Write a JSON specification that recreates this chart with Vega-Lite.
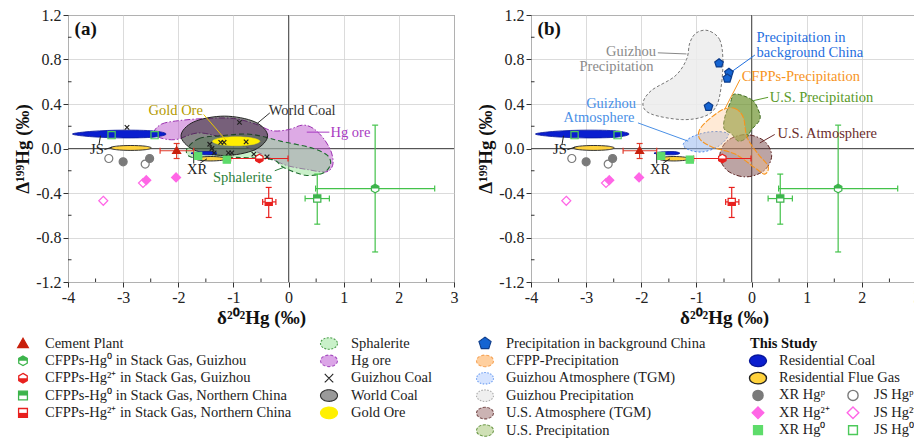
{
"$schema": "https://vega.github.io/schema/vega-lite/v6.json",
"background": "white",
"padding": {"left": 13, "top": 6, "right": 5, "bottom": 5},
"spacing": 6.5,
"resolve": {"scale": {"shape": "independent", "fill": "independent", "stroke": "independent", "strokeDash": "independent", "color": "independent", "x": "independent", "y": "independent"}},
"config": {
  "font": "Liberation Serif",
  "view": {"stroke": null},
  "legend": {"disable": true},
  "axis": {"labelFont": "Liberation Serif", "labelFontSize": 16, "labelColor": "#222", "titleFont": "Liberation Serif", "titleFontSize": 19, "titleFontWeight": "bold", "titleColor": "#111", "domain": false, "tickColor": "#333", "tickWidth": 1, "tickSize": 5, "gridColor": "#d2d2d2", "gridWidth": 0.8}
},
"datasets": {
  "refs": [
    {"x": 0, "y": -1.2, "x2": 0, "y2": 1.2},
    {"x": -4, "y": 0, "x2": 3, "y2": 0}
  ],
  "minor": [
    {"o":"y","x":-4,"y":-1.0},{"o":"y","x":-4,"y":-0.6},{"o":"y","x":-4,"y":-0.2},
    {"o":"y","x":-4,"y":0.2},{"o":"y","x":-4,"y":0.6},{"o":"y","x":-4,"y":1.0},
    {"o":"x","x":-3.5,"y":-1.2},{"o":"x","x":-2.5,"y":-1.2},{"o":"x","x":-1.5,"y":-1.2},
    {"o":"x","x":-0.5,"y":-1.2},{"o":"x","x":0.5,"y":-1.2},{"o":"x","x":1.5,"y":-1.2},{"o":"x","x":2.5,"y":-1.2}
  ],
  "err": [
    {"s":"Cement Plant","x":-2.33,"x2":-1.72,"y":-0.02,"y2":-0.02},
    {"s":"Cement Plant","x":-2.03,"x2":-2.03,"y":-0.09,"y2":0.045},
    {"s":"CFPP Hg0 GZ","x":0.49,"x2":2.65,"y":-0.36,"y2":-0.36},
    {"s":"CFPP Hg0 GZ","x":1.57,"x2":1.57,"y":-0.93,"y2":0.21},
    {"s":"CFPP Hg2 GZ","x":-1.05,"x2":-0.01,"y":-0.09,"y2":-0.09},
    {"s":"CFPP Hg2 GZ","x":-0.53,"x2":-0.53,"y":-0.11,"y2":-0.065},
    {"s":"CFPP Hg0 NC","x":0.3,"x2":0.74,"y":-0.45,"y2":-0.45},
    {"s":"CFPP Hg0 NC","x":0.52,"x2":0.52,"y":-0.68,"y2":-0.23},
    {"s":"CFPP Hg2 NC","x":-0.47,"x2":-0.23,"y":-0.48,"y2":-0.48},
    {"s":"CFPP Hg2 NC","x":-0.36,"x2":-0.36,"y":-0.62,"y2":-0.35}
  ],
  "caps": [
    {"s":"Cement Plant","o":"h","x":-2.33,"y":-0.02},
    {"s":"Cement Plant","o":"h","x":-1.72,"y":-0.02},
    {"s":"Cement Plant","o":"v","x":-2.03,"y":-0.09},
    {"s":"Cement Plant","o":"v","x":-2.03,"y":0.045},
    {"s":"CFPP Hg0 GZ","o":"h","x":0.49,"y":-0.36},
    {"s":"CFPP Hg0 GZ","o":"h","x":2.65,"y":-0.36},
    {"s":"CFPP Hg0 GZ","o":"v","x":1.57,"y":-0.93},
    {"s":"CFPP Hg0 GZ","o":"v","x":1.57,"y":0.21},
    {"s":"CFPP Hg2 GZ","o":"h","x":-1.05,"y":-0.09},
    {"s":"CFPP Hg2 GZ","o":"h","x":-0.01,"y":-0.09},
    {"s":"CFPP Hg2 GZ","o":"v","x":-0.53,"y":-0.11},
    {"s":"CFPP Hg2 GZ","o":"v","x":-0.53,"y":-0.065},
    {"s":"CFPP Hg0 NC","o":"h","x":0.3,"y":-0.45},
    {"s":"CFPP Hg0 NC","o":"h","x":0.74,"y":-0.45},
    {"s":"CFPP Hg0 NC","o":"v","x":0.52,"y":-0.68},
    {"s":"CFPP Hg0 NC","o":"v","x":0.52,"y":-0.23},
    {"s":"CFPP Hg2 NC","o":"h","x":-0.47,"y":-0.48},
    {"s":"CFPP Hg2 NC","o":"h","x":-0.23,"y":-0.48},
    {"s":"CFPP Hg2 NC","o":"v","x":-0.36,"y":-0.62},
    {"s":"CFPP Hg2 NC","o":"v","x":-0.36,"y":-0.35}
  ],
  "pts": [
    {"s":"Cement Plant","x":-2.03,"y":-0.02},
    {"s":"CFPP Hg0 GZ","x":1.57,"y":-0.36},
    {"s":"CFPP Hg2 GZ","x":-0.53,"y":-0.09},
    {"s":"CFPP Hg0 NC","x":0.52,"y":-0.45},
    {"s":"CFPP Hg2 NC","x":-0.36,"y":-0.48},
    {"s":"XR Hgp","x":-3.0,"y":-0.12},
    {"s":"XR Hgp","x":-2.52,"y":-0.09},
    {"s":"JS Hgp","x":-3.26,"y":-0.09},
    {"s":"JS Hgp","x":-2.6,"y":-0.14},
    {"s":"XR Hg2","x":-2.04,"y":-0.26},
    {"s":"XR Hg2","x":-2.58,"y":-0.285},
    {"s":"JS Hg2","x":-3.36,"y":-0.47},
    {"s":"JS Hg2","x":-2.64,"y":-0.31},
    {"s":"XR Hg0","x":-1.64,"y":-0.066},
    {"s":"XR Hg0","x":-1.12,"y":-0.1},
    {"s":"JS Hg0","x":-3.21,"y":0.12},
    {"s":"JS Hg0","x":-2.43,"y":0.12},
    {"s":"Guizhou Coal","x":-2.93,"y":0.19},
    {"s":"Guizhou Coal","x":-0.89,"y":0.235},
    {"s":"Guizhou Coal","x":-1.23,"y":0.055},
    {"s":"Guizhou Coal","x":-1.17,"y":0.055},
    {"s":"Guizhou Coal","x":-0.77,"y":0.06},
    {"s":"Guizhou Coal","x":-1.43,"y":0.038},
    {"s":"Guizhou Coal","x":-1.39,"y":0.0},
    {"s":"Guizhou Coal","x":-1.35,"y":-0.04},
    {"s":"Guizhou Coal","x":-1.09,"y":-0.04},
    {"s":"Guizhou Coal","x":-1.03,"y":-0.04},
    {"s":"Guizhou Coal","x":-0.63,"y":-0.05},
    {"s":"Guizhou Coal","x":-0.39,"y":-0.075},
    {"s":"BG China","x":-0.59,"y":0.766},
    {"s":"BG China","x":-0.41,"y":0.68},
    {"s":"BG China","x":-0.44,"y":0.63},
    {"s":"BG China","x":-0.78,"y":0.376}
  ],
  "blobs": [
    {"b":"hg","g":"hg","i":1,"x":-2.44,"y":0.15},
    {"b":"hg","g":"hg","i":2,"x":-2.3,"y":0.22},
    {"b":"hg","g":"hg","i":3,"x":-2.0,"y":0.25},
    {"b":"hg","g":"hg","i":4,"x":-1.5,"y":0.27},
    {"b":"hg","g":"hg","i":5,"x":-1.0,"y":0.27},
    {"b":"hg","g":"hg","i":6,"x":-0.6,"y":0.22},
    {"b":"hg","g":"hg","i":7,"x":-0.3,"y":0.16},
    {"b":"hg","g":"hg","i":8,"x":0.0,"y":0.17},
    {"b":"hg","g":"hg","i":9,"x":0.25,"y":0.21},
    {"b":"hg","g":"hg","i":10,"x":0.45,"y":0.18},
    {"b":"hg","g":"hg","i":11,"x":0.65,"y":0.08},
    {"b":"hg","g":"hg","i":12,"x":0.78,"y":-0.04},
    {"b":"hg","g":"hg","i":13,"x":0.8,"y":-0.15},
    {"b":"hg","g":"hg","i":14,"x":0.68,"y":-0.21},
    {"b":"hg","g":"hg","i":15,"x":0.35,"y":-0.19},
    {"b":"hg","g":"hg","i":16,"x":-0.05,"y":-0.15},
    {"b":"hg","g":"hg","i":17,"x":-0.4,"y":-0.07},
    {"b":"hg","g":"hg","i":18,"x":-1.0,"y":0.06},
    {"b":"hg","g":"hg","i":19,"x":-1.6,"y":0.14},
    {"b":"hg","g":"hg","i":20,"x":-2.05,"y":0.08},
    {"b":"hg","g":"hg","i":21,"x":-2.35,"y":0.1},
    {"b":"sph","g":"sph","i":1,"x":-1.84,"y":0.0},
    {"b":"sph","g":"sph","i":2,"x":-1.62,"y":0.09},
    {"b":"sph","g":"sph","i":3,"x":-1.24,"y":0.115},
    {"b":"sph","g":"sph","i":4,"x":-0.75,"y":0.13},
    {"b":"sph","g":"sph","i":5,"x":-0.4,"y":0.1},
    {"b":"sph","g":"sph","i":6,"x":-0.15,"y":0.066},
    {"b":"sph","g":"sph","i":7,"x":0.15,"y":0.036},
    {"b":"sph","g":"sph","i":8,"x":0.45,"y":0.0},
    {"b":"sph","g":"sph","i":9,"x":0.7,"y":-0.06},
    {"b":"sph","g":"sph","i":10,"x":0.76,"y":-0.14},
    {"b":"sph","g":"sph","i":11,"x":0.63,"y":-0.22},
    {"b":"sph","g":"sph","i":12,"x":0.3,"y":-0.24},
    {"b":"sph","g":"sph","i":13,"x":-0.09,"y":-0.17},
    {"b":"sph","g":"sph","i":14,"x":-0.3,"y":-0.1},
    {"b":"sph","g":"sph","i":15,"x":-0.93,"y":-0.08},
    {"b":"sph","g":"sph","i":16,"x":-1.54,"y":-0.085},
    {"b":"sph","g":"sph","i":17,"x":-1.8,"y":-0.07},
    {"b":"wc","g":"wc","i":1,"x":-0.38,"y":0.114},
    {"b":"wc","g":"wc","i":2,"x":-0.61,"y":0.239},
    {"b":"wc","g":"wc","i":3,"x":-1.165,"y":0.291},
    {"b":"wc","g":"wc","i":4,"x":-1.72,"y":0.239},
    {"b":"wc","g":"wc","i":5,"x":-1.95,"y":0.114},
    {"b":"wc","g":"wc","i":6,"x":-1.72,"y":-0.011},
    {"b":"wc","g":"wc","i":7,"x":-1.165,"y":-0.063},
    {"b":"wc","g":"wc","i":8,"x":-0.61,"y":-0.011},
    {"b":"gold","g":"gold","i":1,"x":-0.52,"y":0.065},
    {"b":"gold","g":"gold","i":2,"x":-0.646,"y":0.093},
    {"b":"gold","g":"gold","i":3,"x":-0.95,"y":0.105},
    {"b":"gold","g":"gold","i":4,"x":-1.254,"y":0.093},
    {"b":"gold","g":"gold","i":5,"x":-1.38,"y":0.065},
    {"b":"gold","g":"gold","i":6,"x":-1.254,"y":0.037},
    {"b":"gold","g":"gold","i":7,"x":-0.95,"y":0.025},
    {"b":"gold","g":"gold","i":8,"x":-0.646,"y":0.037},
    {"b":"rc","g":"rcjs","i":1,"x":-3.92,"y":0.13},
    {"b":"rc","g":"rcjs","i":2,"x":-3.55,"y":0.155},
    {"b":"rc","g":"rcjs","i":3,"x":-3.0,"y":0.165},
    {"b":"rc","g":"rcjs","i":4,"x":-2.45,"y":0.158},
    {"b":"rc","g":"rcjs","i":5,"x":-2.22,"y":0.13},
    {"b":"rc","g":"rcjs","i":6,"x":-2.45,"y":0.102},
    {"b":"rc","g":"rcjs","i":7,"x":-3.0,"y":0.095},
    {"b":"rc","g":"rcjs","i":8,"x":-3.55,"y":0.105},
    {"b":"rc","g":"rcxr","i":1,"x":-1.77,"y":-0.042},
    {"b":"rc","g":"rcxr","i":2,"x":-1.6,"y":-0.03},
    {"b":"rc","g":"rcxr","i":3,"x":-1.4,"y":-0.028},
    {"b":"rc","g":"rcxr","i":4,"x":-1.3,"y":-0.042},
    {"b":"rc","g":"rcxr","i":5,"x":-1.4,"y":-0.056},
    {"b":"rc","g":"rcxr","i":6,"x":-1.6,"y":-0.054},
    {"b":"fg","g":"fgjs","i":1,"x":-2.49,"y":0.005},
    {"b":"fg","g":"fgjs","i":2,"x":-2.6,"y":0.021},
    {"b":"fg","g":"fgjs","i":3,"x":-2.86,"y":0.027},
    {"b":"fg","g":"fgjs","i":4,"x":-3.12,"y":0.021},
    {"b":"fg","g":"fgjs","i":5,"x":-3.235,"y":0.005},
    {"b":"fg","g":"fgjs","i":6,"x":-3.12,"y":-0.011},
    {"b":"fg","g":"fgjs","i":7,"x":-2.86,"y":-0.017},
    {"b":"fg","g":"fgjs","i":8,"x":-2.6,"y":-0.011},
    {"b":"fg","g":"fgxr","i":1,"x":-1.13,"y":-0.092},
    {"b":"fg","g":"fgxr","i":2,"x":-1.21,"y":-0.078},
    {"b":"fg","g":"fgxr","i":3,"x":-1.41,"y":-0.072},
    {"b":"fg","g":"fgxr","i":4,"x":-1.61,"y":-0.078},
    {"b":"fg","g":"fgxr","i":5,"x":-1.69,"y":-0.092},
    {"b":"fg","g":"fgxr","i":6,"x":-1.61,"y":-0.106},
    {"b":"fg","g":"fgxr","i":7,"x":-1.41,"y":-0.112},
    {"b":"fg","g":"fgxr","i":8,"x":-1.21,"y":-0.106},
    {"b":"gzp","g":"gzp","i":1,"x":-0.79,"y":1.06},
    {"b":"gzp","g":"gzp","i":2,"x":-0.58,"y":0.98},
    {"b":"gzp","g":"gzp","i":3,"x":-0.52,"y":0.8},
    {"b":"gzp","g":"gzp","i":4,"x":-0.55,"y":0.56},
    {"b":"gzp","g":"gzp","i":5,"x":-0.64,"y":0.38},
    {"b":"gzp","g":"gzp","i":6,"x":-0.85,"y":0.29},
    {"b":"gzp","g":"gzp","i":7,"x":-1.27,"y":0.26},
    {"b":"gzp","g":"gzp","i":8,"x":-1.82,"y":0.31},
    {"b":"gzp","g":"gzp","i":9,"x":-1.97,"y":0.4},
    {"b":"gzp","g":"gzp","i":10,"x":-1.82,"y":0.52},
    {"b":"gzp","g":"gzp","i":11,"x":-1.39,"y":0.65},
    {"b":"gzp","g":"gzp","i":12,"x":-1.18,"y":0.8},
    {"b":"gzp","g":"gzp","i":13,"x":-1.12,"y":0.95},
    {"b":"gzp","g":"gzp","i":14,"x":-1.0,"y":1.04},
    {"b":"gza","g":"gza","i":1,"x":-0.42,"y":0.12},
    {"b":"gza","g":"gza","i":2,"x":-0.55,"y":0.15},
    {"b":"gza","g":"gza","i":3,"x":-0.82,"y":0.145},
    {"b":"gza","g":"gza","i":4,"x":-1.1,"y":0.1},
    {"b":"gza","g":"gza","i":5,"x":-1.24,"y":0.035},
    {"b":"gza","g":"gza","i":6,"x":-1.12,"y":-0.015},
    {"b":"gza","g":"gza","i":7,"x":-0.88,"y":-0.03},
    {"b":"gza","g":"gza","i":8,"x":-0.6,"y":0.02},
    {"b":"usa","g":"usa","i":1,"x":0.364,"y":-0.065},
    {"b":"usa","g":"usa","i":2,"x":0.226,"y":0.069},
    {"b":"usa","g":"usa","i":3,"x":-0.106,"y":0.125},
    {"b":"usa","g":"usa","i":4,"x":-0.438,"y":0.069},
    {"b":"usa","g":"usa","i":5,"x":-0.576,"y":-0.065},
    {"b":"usa","g":"usa","i":6,"x":-0.438,"y":-0.199},
    {"b":"usa","g":"usa","i":7,"x":-0.106,"y":-0.255},
    {"b":"usa","g":"usa","i":8,"x":0.226,"y":-0.199},
    {"b":"usp","g":"usp","i":1,"x":-0.3,"y":0.49},
    {"b":"usp","g":"usp","i":2,"x":0.0,"y":0.44},
    {"b":"usp","g":"usp","i":3,"x":0.12,"y":0.35},
    {"b":"usp","g":"usp","i":4,"x":0.15,"y":0.26},
    {"b":"usp","g":"usp","i":5,"x":0.0,"y":0.17},
    {"b":"usp","g":"usp","i":6,"x":-0.09,"y":0.096},
    {"b":"usp","g":"usp","i":7,"x":-0.24,"y":0.066},
    {"b":"usp","g":"usp","i":8,"x":-0.36,"y":0.13},
    {"b":"usp","g":"usp","i":9,"x":-0.5,"y":0.18},
    {"b":"usp","g":"usp","i":10,"x":-0.48,"y":0.29},
    {"b":"usp","g":"usp","i":11,"x":-0.38,"y":0.42},
    {"b":"cfpp","g":"cfpp","i":1,"x":-0.52,"y":0.35},
    {"b":"cfpp","g":"cfpp","i":2,"x":-0.3,"y":0.36},
    {"b":"cfpp","g":"cfpp","i":3,"x":-0.15,"y":0.28},
    {"b":"cfpp","g":"cfpp","i":4,"x":-0.08,"y":0.1},
    {"b":"cfpp","g":"cfpp","i":5,"x":0.12,"y":-0.05},
    {"b":"cfpp","g":"cfpp","i":6,"x":0.3,"y":-0.16},
    {"b":"cfpp","g":"cfpp","i":7,"x":0.24,"y":-0.23},
    {"b":"cfpp","g":"cfpp","i":8,"x":0.05,"y":-0.17},
    {"b":"cfpp","g":"cfpp","i":9,"x":-0.3,"y":-0.05},
    {"b":"cfpp","g":"cfpp","i":10,"x":-0.7,"y":0.01},
    {"b":"cfpp","g":"cfpp","i":11,"x":-0.93,"y":0.08},
    {"b":"cfpp","g":"cfpp","i":12,"x":-0.95,"y":0.16},
    {"b":"cfpp","g":"cfpp","i":13,"x":-0.8,"y":0.25}
  ],
  "ann": [
    {"p":"a","k":"gold","t":"Gold Ore","x":-2.54,"y":0.34},
    {"p":"a","k":"wc","t":"World Coal","x":-0.36,"y":0.34},
    {"p":"a","k":"hg","t":"Hg ore","x":0.76,"y":0.14},
    {"p":"a","k":"sph","t":"Sphalerite","x":-1.37,"y":-0.265},
    {"p":"ab","k":"site","t":"JS","x":-3.6,"y":-0.01},
    {"p":"ab","k":"site","t":"XR","x":-1.84,"y":-0.195},
    {"p":"b","k":"gzp","t":"Guizhou","x":-2.64,"y":0.87},
    {"p":"b","k":"gzp","t":"Precipitation","x":-3.12,"y":0.73},
    {"p":"b","k":"bg","t":"Precipitation in","x":0.09,"y":0.99},
    {"p":"b","k":"bg","t":"background China","x":0.09,"y":0.86},
    {"p":"b","k":"cfpp","t":"CFPPs-Precipitation","x":-0.18,"y":0.64},
    {"p":"b","k":"usp","t":"U.S. Precipitation","x":0.33,"y":0.455},
    {"p":"b","k":"gza","t":"Guizhou","x":-3.0,"y":0.4},
    {"p":"b","k":"gza","t":"Atmosphere","x":-3.41,"y":0.27},
    {"p":"b","k":"usa","t":"U.S. Atmosphere","x":0.47,"y":0.126}
  ],
  "lead": [
    {"p":"a","k":"gold","x":-1.54,"y":0.306,"x2":-1.12,"y2":0.066},
    {"p":"a","k":"wc","x":-0.34,"y":0.32,"x2":-0.57,"y2":0.225},
    {"p":"a","k":"hg","x":0.33,"y":0.147,"x2":0.74,"y2":0.147},
    {"p":"a","k":"sph","x":-0.25,"y":-0.2,"x2":-0.09,"y2":-0.17},
    {"p":"ab","k":"site","x":-3.44,"y":0.03,"x2":-3.41,"y2":0.115},
    {"p":"ab","k":"site","x":-3.34,"y":-0.01,"x2":-3.2,"y2":0.012},
    {"p":"ab","k":"site","x":-1.72,"y":-0.135,"x2":-1.72,"y2":-0.045},
    {"p":"ab","k":"site","x":-1.6,"y":-0.13,"x2":-1.48,"y2":-0.093},
    {"p":"b","k":"gzp","x":-1.7,"y":0.86,"x2":-1.18,"y2":0.85},
    {"p":"b","k":"bg","x":-0.39,"y":0.68,"x2":0.06,"y2":0.84},
    {"p":"b","k":"cfpp","x":-0.21,"y":0.62,"x2":-0.49,"y2":0.35},
    {"p":"b","k":"usp","x":0.03,"y":0.43,"x2":0.3,"y2":0.46},
    {"p":"b","k":"gza","x":-2.06,"y":0.23,"x2":-1.15,"y2":0.066},
    {"p":"b","k":"usa","x":0.15,"y":0.05,"x2":0.42,"y2":0.126}
  ]
},
"vconcat": [
  {"hconcat": [
    {"width": 45, "height": 10, "data": {"values": []}, "mark": "point"},
    {"hconcat": [
      {
        "width": 386, "height": 267,
        "view": {"stroke": "#333", "strokeWidth": 1},
        "encoding": {
          "x": {"field": "x", "type": "quantitative", "scale": {"domain": [-4, 3], "nice": false, "zero": false},
            "axis": {"title": "δ²⁰²Hg (‰)", "grid": true, "values": [-4,-3,-2,-1,0,1,2,3],
              "labelExpr": "datum.value < 0 ? '-' + abs(datum.value) : '' + datum.value",
              "labelOverlap": false, "labelFlush": false, "labelPadding": 2, "titlePadding": 3}},
          "y": {"field": "y", "type": "quantitative", "scale": {"domain": [-1.2, 1.2], "nice": false, "zero": false},
            "axis": {"title": "Δ¹⁹⁹Hg (‰)", "grid": true, "values": [-1.2,-0.8,-0.4,0,0.4,0.8,1.2],
              "labelExpr": "(datum.value < -0.01 ? '-' : '') + format(abs(datum.value), '.1f')",
              "labelOverlap": false, "labelFlush": false, "labelPadding": 2, "titlePadding": 3}}
        },
        "resolve": {"scale": {"shape": "independent", "fill": "independent", "stroke": "independent", "color": "independent"}},
        "layer": [
          {"data": {"name": "refs"}, "mark": {"type": "rule", "color": "#555", "strokeWidth": 1}, "encoding": {"x2": {"field": "x2"}, "y2": {"field": "y2"}}},
          {"data": {"name": "minor"}, "mark": {"type": "point", "size": 49, "filled": false, "opacity": 1, "strokeWidth": 1, "stroke": "#333"}, "encoding": {"shape": {"field": "o", "type": "nominal", "scale": {"domain": ["y", "x"], "range": ["M0,0L1,0", "M0,0L0,-1"]}}}},
          {"data": {"name": "blobs"}, "transform": [{"filter": "datum.b === 'hg'"}], "mark": {"type": "line", "interpolate": "cardinal-closed", "fill": "#bb55cc", "fillOpacity": 0.5, "stroke": "#9b30b0", "strokeWidth": 1, "strokeDash": [6, 2, 1.5, 2]}, "encoding": {"detail": {"field": "g"}, "order": {"field": "i", "type": "quantitative"}}},
          {"data": {"name": "blobs"}, "transform": [{"filter": "datum.b === 'sph'"}], "mark": {"type": "line", "interpolate": "cardinal-closed", "fill": "#88dd88", "fillOpacity": 0.45, "stroke": "#1e6b2e", "strokeWidth": 1.1, "strokeDash": [5, 3]}, "encoding": {"detail": {"field": "g"}, "order": {"field": "i", "type": "quantitative"}}},
          {"data": {"name": "blobs"}, "transform": [{"filter": "datum.b === 'wc'"}], "mark": {"type": "line", "interpolate": "cardinal-closed", "fill": "#222222", "fillOpacity": 0.55, "stroke": "#222", "strokeWidth": 1}, "encoding": {"detail": {"field": "g"}, "order": {"field": "i", "type": "quantitative"}}},
          {"data": {"name": "blobs"}, "transform": [{"filter": "datum.b === 'gold'"}], "mark": {"type": "line", "interpolate": "cardinal-closed", "fill": "#ffee00", "fillOpacity": 1, "stroke": "#ffee00", "strokeWidth": 0.5}, "encoding": {"detail": {"field": "g"}, "order": {"field": "i", "type": "quantitative"}}},
          {"data": {"name": "blobs"}, "transform": [{"filter": "datum.b === 'rc'"}], "mark": {"type": "line", "interpolate": "cardinal-closed", "fill": "#0a1ecf", "fillOpacity": 1, "stroke": "#08179a", "strokeWidth": 0.8}, "encoding": {"detail": {"field": "g"}, "order": {"field": "i", "type": "quantitative"}}},
          {"data": {"name": "blobs"}, "transform": [{"filter": "datum.b === 'fg'"}], "mark": {"type": "line", "interpolate": "cardinal-closed", "fill": "#ffd23c", "fillOpacity": 1, "stroke": "#333", "strokeWidth": 1}, "encoding": {"detail": {"field": "g"}, "order": {"field": "i", "type": "quantitative"}}},
          {"data": {"name": "lead"}, "transform": [{"filter": "datum.p !== 'b'"}], "mark": {"type": "rule", "strokeWidth": 1}, "encoding": {"x2": {"field": "x2"}, "y2": {"field": "y2"}, "color": {"field": "k", "type": "nominal", "scale": {"domain": ["gold","wc","hg","sph","site","gzp","bg","cfpp","usp","gza","usa"], "range": ["#e8c800","#333333","#a93cc2","#2e7f3c","#222222","#888888","#1f6fe0","#f7941d","#5a9a2a","#4a90e6","#6b2d2d"]}}}},
          {"data": {"name": "err"}, "mark": {"type": "rule", "strokeWidth": 1.2}, "encoding": {"x2": {"field": "x2"}, "y2": {"field": "y2"}, "color": {"field": "s", "type": "nominal", "scale": {"domain": ["Cement Plant","CFPP Hg0 GZ","CFPP Hg2 GZ","CFPP Hg0 NC","CFPP Hg2 NC"], "range": ["#e03a2a","#43c24a","#e8201e","#43c24a","#e8201e"]}}}},
          {"data": {"name": "caps"}, "mark": {"type": "point", "size": 100, "filled": false, "opacity": 1, "strokeWidth": 1.2}, "encoding": {"shape": {"field": "o", "type": "nominal", "scale": {"domain": ["h", "v"], "range": ["M0,-0.6L0,0.6", "M-0.6,0L0.6,0"]}}, "color": {"field": "s", "type": "nominal", "scale": {"domain": ["Cement Plant","CFPP Hg0 GZ","CFPP Hg2 GZ","CFPP Hg0 NC","CFPP Hg2 NC"], "range": ["#e03a2a","#43c24a","#e8201e","#43c24a","#e8201e"]}}}},
          {"data": {"name": "pts"}, "transform": [{"filter": "datum.s !== 'BG China'"}], "mark": {"type": "point", "filled": true, "opacity": 1, "size": 100, "strokeWidth": 1.2},
            "encoding": {
              "shape": {"field": "s", "type": "nominal", "scale": {"domain": ["Cement Plant","CFPP Hg0 GZ","CFPP Hg2 GZ","CFPP Hg0 NC","CFPP Hg2 NC","XR Hgp","JS Hgp","XR Hg2","JS Hg2","XR Hg0","JS Hg0","Guizhou Coal","BG China"], "range": ["M0,-0.8L0.8,0.55L-0.8,0.55Z","M0,-0.85L0.74,-0.425L0.74,0.425L0,0.85L-0.74,0.425L-0.74,-0.425Z","M0,-0.85L0.74,-0.425L0.74,0.425L0,0.85L-0.74,0.425L-0.74,-0.425Z","M-0.72,-0.72L0.72,-0.72L0.72,0.72L-0.72,0.72Z","M-0.72,-0.72L0.72,-0.72L0.72,0.72L-0.72,0.72Z","M0.8,0C0.8,0.442,0.442,0.8,0,0.8C-0.442,0.8,-0.8,0.442,-0.8,0C-0.8,-0.442,-0.442,-0.8,0,-0.8C0.442,-0.8,0.8,-0.442,0.8,0Z","M0.8,0C0.8,0.442,0.442,0.8,0,0.8C-0.442,0.8,-0.8,0.442,-0.8,0C-0.8,-0.442,-0.442,-0.8,0,-0.8C0.442,-0.8,0.8,-0.442,0.8,0Z","M0,-0.9L0.9,0L0,0.9L-0.9,0Z","M0,-0.9L0.9,0L0,0.9L-0.9,0Z","M-0.72,-0.72L0.72,-0.72L0.72,0.72L-0.72,0.72Z","M-0.72,-0.72L0.72,-0.72L0.72,0.72L-0.72,0.72Z","M-0.45,-0.45L0.45,0.45M0.45,-0.45L-0.45,0.45","M0,-0.9L0.856,-0.278L0.529,0.728L-0.529,0.728L-0.856,-0.278Z"]}},
              "fill": {"field": "s", "type": "nominal", "scale": {"domain": ["Cement Plant","CFPP Hg0 GZ","CFPP Hg2 GZ","CFPP Hg0 NC","CFPP Hg2 NC","XR Hgp","JS Hgp","XR Hg2","JS Hg2","XR Hg0","JS Hg0","Guizhou Coal","BG China"], "range": ["#c8200c","#ffffff","#ffffff","#ffffff","#ffffff","#7a7a7a","transparent","#ff66e6","transparent","#5edc6b","transparent","transparent","#1464d2"]}},
              "stroke": {"field": "s", "type": "nominal", "scale": {"domain": ["Cement Plant","CFPP Hg0 GZ","CFPP Hg2 GZ","CFPP Hg0 NC","CFPP Hg2 NC","XR Hgp","JS Hgp","XR Hg2","JS Hg2","XR Hg0","JS Hg0","Guizhou Coal","BG China"], "range": ["#c8200c","#3cb44b","#e8201e","#3cb44b","#e8201e","#7a7a7a","#7a7a7a","#ff66e6","#ff66e6","#5edc6b","#4cc95a","#222222","#0d3c8a"]}}
            }},
          {"data": {"name": "pts"}, "transform": [{"filter": "indexof(datum.s, 'CFPP') === 0"}], "mark": {"type": "point", "filled": true, "opacity": 1, "size": 100, "strokeWidth": 0},
            "encoding": {
              "shape": {"field": "s", "type": "nominal", "scale": {"domain": ["CFPP Hg0 GZ","CFPP Hg2 GZ","CFPP Hg0 NC","CFPP Hg2 NC"], "range": ["M-0.74,0L-0.74,-0.425L0,-0.85L0.74,-0.425L0.74,0Z","M-0.74,0L-0.74,0.425L0,0.85L0.74,0.425L0.74,0Z","M-0.72,-0.72L0.72,-0.72L0.72,0L-0.72,0Z","M-0.72,0L0.72,0L0.72,0.72L-0.72,0.72Z"]}},
              "fill": {"field": "s", "type": "nominal", "scale": {"domain": ["CFPP Hg0 GZ","CFPP Hg2 GZ","CFPP Hg0 NC","CFPP Hg2 NC"], "range": ["#3cb44b","#e8201e","#3cb44b","#e8201e"]}}
            }},
          {"data": {"name": "ann"}, "transform": [{"filter": "datum.p !== 'b'"}], "mark": {"type": "text", "align": "left", "baseline": "middle", "fontSize": 14.5}, "encoding": {"text": {"field": "t"}, "color": {"field": "k", "type": "nominal", "scale": {"domain": ["gold","wc","hg","sph","site","gzp","bg","cfpp","usp","gza","usa"], "range": ["#b39a00","#333333","#a93cc2","#2e7f3c","#222222","#8a8a8a","#1f6fe0","#f7941d","#5a9a2a","#4a90e6","#6b2d2d"]}}}},
          {"data": {"values": [{"t": "(a)", "x": -3.88, "y": 1.07}]}, "mark": {"type": "text", "align": "left", "baseline": "middle", "fontSize": 19, "fontWeight": "bold", "color": "#111"}, "encoding": {"text": {"field": "t"}}}
        ]
      },
      {
        "width": 386, "height": 267,
        "view": {"stroke": "#333", "strokeWidth": 1},
        "encoding": {
          "x": {"field": "x", "type": "quantitative", "scale": {"domain": [-4, 3], "nice": false, "zero": false},
            "axis": {"title": "δ²⁰²Hg (‰)", "grid": true, "values": [-4,-3,-2,-1,0,1,2,3],
              "labelExpr": "datum.value < 0 ? '-' + abs(datum.value) : '' + datum.value",
              "labelOverlap": false, "labelFlush": false, "labelPadding": 2, "titlePadding": 3}},
          "y": {"field": "y", "type": "quantitative", "scale": {"domain": [-1.2, 1.2], "nice": false, "zero": false},
            "axis": {"title": "Δ¹⁹⁹Hg (‰)", "grid": true, "values": [-1.2,-0.8,-0.4,0,0.4,0.8,1.2],
              "labelExpr": "(datum.value < -0.01 ? '-' : '') + format(abs(datum.value), '.1f')",
              "labelOverlap": false, "labelFlush": false, "labelPadding": 2, "titlePadding": 3}}
        },
        "resolve": {"scale": {"shape": "independent", "fill": "independent", "stroke": "independent", "color": "independent"}},
        "layer": [
          {"data": {"name": "refs"}, "mark": {"type": "rule", "color": "#555", "strokeWidth": 1}, "encoding": {"x2": {"field": "x2"}, "y2": {"field": "y2"}}},
          {"data": {"name": "minor"}, "mark": {"type": "point", "size": 49, "filled": false, "opacity": 1, "strokeWidth": 1, "stroke": "#333"}, "encoding": {"shape": {"field": "o", "type": "nominal", "scale": {"domain": ["y", "x"], "range": ["M0,0L1,0", "M0,0L0,-1"]}}}},
          {"data": {"name": "blobs"}, "transform": [{"filter": "datum.b === 'gzp'"}], "mark": {"type": "line", "interpolate": "cardinal-closed", "fill": "#ececec", "fillOpacity": 0.85, "stroke": "#777", "strokeWidth": 1, "strokeDash": [3, 2]}, "encoding": {"detail": {"field": "g"}, "order": {"field": "i", "type": "quantitative"}}},
          {"data": {"name": "blobs"}, "transform": [{"filter": "datum.b === 'gza'"}], "mark": {"type": "line", "interpolate": "cardinal-closed", "fill": "#8fb4f0", "fillOpacity": 0.5, "stroke": "#4a86e8", "strokeWidth": 1, "strokeDash": [2, 2]}, "encoding": {"detail": {"field": "g"}, "order": {"field": "i", "type": "quantitative"}}},
          {"data": {"name": "blobs"}, "transform": [{"filter": "datum.b === 'usa'"}], "mark": {"type": "line", "interpolate": "cardinal-closed", "fill": "#6b3535", "fillOpacity": 0.45, "stroke": "#5a2222", "strokeWidth": 1, "strokeDash": [5, 2, 1.5, 2]}, "encoding": {"detail": {"field": "g"}, "order": {"field": "i", "type": "quantitative"}}},
          {"data": {"name": "blobs"}, "transform": [{"filter": "datum.b === 'usp'"}], "mark": {"type": "line", "interpolate": "cardinal-closed", "fill": "#6f9430", "fillOpacity": 0.7, "stroke": "#3e6b1e", "strokeWidth": 1, "strokeDash": [4, 2]}, "encoding": {"detail": {"field": "g"}, "order": {"field": "i", "type": "quantitative"}}},
          {"data": {"name": "blobs"}, "transform": [{"filter": "datum.b === 'cfpp'"}], "mark": {"type": "line", "interpolate": "cardinal-closed", "fill": "#ffc48a", "fillOpacity": 0.35, "stroke": "#f7941d", "strokeWidth": 1.1, "strokeDash": [6, 1.5]}, "encoding": {"detail": {"field": "g"}, "order": {"field": "i", "type": "quantitative"}}},
          {"data": {"name": "blobs"}, "transform": [{"filter": "datum.b === 'rc'"}], "mark": {"type": "line", "interpolate": "cardinal-closed", "fill": "#0a1ecf", "fillOpacity": 1, "stroke": "#08179a", "strokeWidth": 0.8}, "encoding": {"detail": {"field": "g"}, "order": {"field": "i", "type": "quantitative"}}},
          {"data": {"name": "blobs"}, "transform": [{"filter": "datum.b === 'fg'"}], "mark": {"type": "line", "interpolate": "cardinal-closed", "fill": "#ffd23c", "fillOpacity": 1, "stroke": "#333", "strokeWidth": 1}, "encoding": {"detail": {"field": "g"}, "order": {"field": "i", "type": "quantitative"}}},
          {"data": {"name": "lead"}, "transform": [{"filter": "datum.p !== 'a'"}], "mark": {"type": "rule", "strokeWidth": 1}, "encoding": {"x2": {"field": "x2"}, "y2": {"field": "y2"}, "color": {"field": "k", "type": "nominal", "scale": {"domain": ["gold","wc","hg","sph","site","gzp","bg","cfpp","usp","gza","usa"], "range": ["#e8c800","#333333","#a93cc2","#2e7f3c","#222222","#888888","#1f6fe0","#f7941d","#5a9a2a","#4a90e6","#6b2d2d"]}}}},
          {"data": {"name": "err"}, "mark": {"type": "rule", "strokeWidth": 1.2}, "encoding": {"x2": {"field": "x2"}, "y2": {"field": "y2"}, "color": {"field": "s", "type": "nominal", "scale": {"domain": ["Cement Plant","CFPP Hg0 GZ","CFPP Hg2 GZ","CFPP Hg0 NC","CFPP Hg2 NC"], "range": ["#e03a2a","#43c24a","#e8201e","#43c24a","#e8201e"]}}}},
          {"data": {"name": "caps"}, "mark": {"type": "point", "size": 100, "filled": false, "opacity": 1, "strokeWidth": 1.2}, "encoding": {"shape": {"field": "o", "type": "nominal", "scale": {"domain": ["h", "v"], "range": ["M0,-0.6L0,0.6", "M-0.6,0L0.6,0"]}}, "color": {"field": "s", "type": "nominal", "scale": {"domain": ["Cement Plant","CFPP Hg0 GZ","CFPP Hg2 GZ","CFPP Hg0 NC","CFPP Hg2 NC"], "range": ["#e03a2a","#43c24a","#e8201e","#43c24a","#e8201e"]}}}},
          {"data": {"name": "pts"}, "transform": [{"filter": "datum.s !== 'Guizhou Coal'"}], "mark": {"type": "point", "filled": true, "opacity": 1, "size": 100, "strokeWidth": 1.2},
            "encoding": {
              "shape": {"field": "s", "type": "nominal", "scale": {"domain": ["Cement Plant","CFPP Hg0 GZ","CFPP Hg2 GZ","CFPP Hg0 NC","CFPP Hg2 NC","XR Hgp","JS Hgp","XR Hg2","JS Hg2","XR Hg0","JS Hg0","Guizhou Coal","BG China"], "range": ["M0,-0.8L0.8,0.55L-0.8,0.55Z","M0,-0.85L0.74,-0.425L0.74,0.425L0,0.85L-0.74,0.425L-0.74,-0.425Z","M0,-0.85L0.74,-0.425L0.74,0.425L0,0.85L-0.74,0.425L-0.74,-0.425Z","M-0.72,-0.72L0.72,-0.72L0.72,0.72L-0.72,0.72Z","M-0.72,-0.72L0.72,-0.72L0.72,0.72L-0.72,0.72Z","M0.8,0C0.8,0.442,0.442,0.8,0,0.8C-0.442,0.8,-0.8,0.442,-0.8,0C-0.8,-0.442,-0.442,-0.8,0,-0.8C0.442,-0.8,0.8,-0.442,0.8,0Z","M0.8,0C0.8,0.442,0.442,0.8,0,0.8C-0.442,0.8,-0.8,0.442,-0.8,0C-0.8,-0.442,-0.442,-0.8,0,-0.8C0.442,-0.8,0.8,-0.442,0.8,0Z","M0,-0.9L0.9,0L0,0.9L-0.9,0Z","M0,-0.9L0.9,0L0,0.9L-0.9,0Z","M-0.72,-0.72L0.72,-0.72L0.72,0.72L-0.72,0.72Z","M-0.72,-0.72L0.72,-0.72L0.72,0.72L-0.72,0.72Z","M-0.45,-0.45L0.45,0.45M0.45,-0.45L-0.45,0.45","M0,-0.9L0.856,-0.278L0.529,0.728L-0.529,0.728L-0.856,-0.278Z"]}},
              "fill": {"field": "s", "type": "nominal", "scale": {"domain": ["Cement Plant","CFPP Hg0 GZ","CFPP Hg2 GZ","CFPP Hg0 NC","CFPP Hg2 NC","XR Hgp","JS Hgp","XR Hg2","JS Hg2","XR Hg0","JS Hg0","Guizhou Coal","BG China"], "range": ["#c8200c","#ffffff","#ffffff","#ffffff","#ffffff","#7a7a7a","transparent","#ff66e6","transparent","#5edc6b","transparent","transparent","#1464d2"]}},
              "stroke": {"field": "s", "type": "nominal", "scale": {"domain": ["Cement Plant","CFPP Hg0 GZ","CFPP Hg2 GZ","CFPP Hg0 NC","CFPP Hg2 NC","XR Hgp","JS Hgp","XR Hg2","JS Hg2","XR Hg0","JS Hg0","Guizhou Coal","BG China"], "range": ["#c8200c","#3cb44b","#e8201e","#3cb44b","#e8201e","#7a7a7a","#7a7a7a","#ff66e6","#ff66e6","#5edc6b","#4cc95a","#222222","#0d3c8a"]}}
            }},
          {"data": {"name": "pts"}, "transform": [{"filter": "indexof(datum.s, 'CFPP') === 0"}], "mark": {"type": "point", "filled": true, "opacity": 1, "size": 100, "strokeWidth": 0},
            "encoding": {
              "shape": {"field": "s", "type": "nominal", "scale": {"domain": ["CFPP Hg0 GZ","CFPP Hg2 GZ","CFPP Hg0 NC","CFPP Hg2 NC"], "range": ["M-0.74,0L-0.74,-0.425L0,-0.85L0.74,-0.425L0.74,0Z","M-0.74,0L-0.74,0.425L0,0.85L0.74,0.425L0.74,0Z","M-0.72,-0.72L0.72,-0.72L0.72,0L-0.72,0Z","M-0.72,0L0.72,0L0.72,0.72L-0.72,0.72Z"]}},
              "fill": {"field": "s", "type": "nominal", "scale": {"domain": ["CFPP Hg0 GZ","CFPP Hg2 GZ","CFPP Hg0 NC","CFPP Hg2 NC"], "range": ["#3cb44b","#e8201e","#3cb44b","#e8201e"]}}
            }},
          {"data": {"name": "ann"}, "transform": [{"filter": "datum.p !== 'a'"}], "mark": {"type": "text", "align": "left", "baseline": "middle", "fontSize": 14.5}, "encoding": {"text": {"field": "t"}, "color": {"field": "k", "type": "nominal", "scale": {"domain": ["gold","wc","hg","sph","site","gzp","bg","cfpp","usp","gza","usa"], "range": ["#b39a00","#333333","#a93cc2","#2e7f3c","#222222","#8a8a8a","#1f6fe0","#f7941d","#5a9a2a","#4a90e6","#6b2d2d"]}}}},
          {"data": {"values": [{"t": "(b)", "x": -3.88, "y": 1.07}]}, "mark": {"type": "text", "align": "left", "baseline": "middle", "fontSize": 19, "fontWeight": "bold", "color": "#111"}, "encoding": {"text": {"field": "t"}}}
        ]
      }
    ], "spacing": 77, "bounds": "flush", "resolve": {"scale": {"shape": "independent", "fill": "independent", "stroke": "independent", "color": "independent"}}}
  ], "spacing": 0, "bounds": "flush", "resolve": {"scale": {"shape": "independent", "fill": "independent", "stroke": "independent", "color": "independent"}}},
  {"hconcat": [
    {
      "width": 306, "height": 69.4,
      "data": {"values": [
        {"k": "Cement Plant", "t": "Cement Plant"},
        {"k": "CFPP Hg0 GZ", "t": "CFPPs-Hg⁰ in Stack Gas, Guizhou"},
        {"k": "CFPP Hg2 GZ", "t": "CFPPs-Hg²⁺ in Stack Gas, Guizhou"},
        {"k": "CFPP Hg0 NC", "t": "CFPPs-Hg⁰ in Stack Gas, Northern China"},
        {"k": "CFPP Hg2 NC", "t": "CFPPs-Hg²⁺ in Stack Gas, Northern China"}
      ]},
      "encoding": {
        "x": {"datum": 0, "type": "quantitative", "scale": {"domain": [0, 1]}, "axis": null},
        "y": {"field": "t", "type": "nominal", "sort": null, "scale": {"type": "point", "padding": 0}, "axis": null}
      },
      "resolve": {"scale": {"shape": "independent", "fill": "independent", "stroke": "independent"}},
      "layer": [
        {"mark": {"type": "point", "filled": true, "opacity": 1, "size": 289, "strokeWidth": 1.3},
          "encoding": {
            "shape": {"field": "k", "type": "nominal", "scale": {"domain": ["Cement Plant","CFPP Hg0 GZ","CFPP Hg2 GZ","CFPP Hg0 NC","CFPP Hg2 NC"], "range": ["M0,-0.6L0.62,0.48L-0.62,0.48Z","M0,-0.56L0.5,-0.28L0.5,0.28L0,0.56L-0.5,0.28L-0.5,-0.28Z","M0,-0.56L0.5,-0.28L0.5,0.28L0,0.56L-0.5,0.28L-0.5,-0.28Z","M-0.52,-0.52L0.52,-0.52L0.52,0.52L-0.52,0.52Z","M-0.52,-0.52L0.52,-0.52L0.52,0.52L-0.52,0.52Z"]}},
            "fill": {"field": "k", "type": "nominal", "scale": {"domain": ["Cement Plant","CFPP Hg0 GZ","CFPP Hg2 GZ","CFPP Hg0 NC","CFPP Hg2 NC"], "range": ["#c8200c","#ffffff","#ffffff","#ffffff","#ffffff"]}},
            "stroke": {"field": "k", "type": "nominal", "scale": {"domain": ["Cement Plant","CFPP Hg0 GZ","CFPP Hg2 GZ","CFPP Hg0 NC","CFPP Hg2 NC"], "range": ["#c8200c","#3cb44b","#e8201e","#3cb44b","#e8201e"]}}
          }},
        {"transform": [{"filter": "indexof(datum.k, 'CFPP') === 0"}], "mark": {"type": "point", "filled": true, "opacity": 1, "size": 289, "strokeWidth": 0},
          "encoding": {
            "shape": {"field": "k", "type": "nominal", "scale": {"domain": ["CFPP Hg0 GZ","CFPP Hg2 GZ","CFPP Hg0 NC","CFPP Hg2 NC"], "range": ["M-0.5,0L-0.5,-0.28L0,-0.56L0.5,-0.28L0.5,0Z","M-0.5,0L-0.5,0.28L0,0.56L0.5,0.28L0.5,0Z","M-0.52,-0.52L0.52,-0.52L0.52,0L-0.52,0Z","M-0.52,0L0.52,0L0.52,0.52L-0.52,0.52Z"]}},
            "fill": {"field": "k", "type": "nominal", "scale": {"domain": ["CFPP Hg0 GZ","CFPP Hg2 GZ","CFPP Hg0 NC","CFPP Hg2 NC"], "range": ["#3cb44b","#e8201e","#3cb44b","#e8201e"]}}
          }},
        {"mark": {"type": "text", "align": "left", "baseline": "middle", "dx": 22, "fontSize": 14.5, "color": "#222"}, "encoding": {"text": {"field": "t"}}}
      ]
    },
    {
      "width": 156, "height": 69.4,
      "data": {"values": [
        {"k": "Sphalerite", "t": "Sphalerite"},
        {"k": "Hg ore", "t": "Hg ore"},
        {"k": "Guizhou Coal", "t": "Guizhou Coal"},
        {"k": "World Coal", "t": "World Coal"},
        {"k": "Gold Ore", "t": "Gold Ore"}
      ]},
      "encoding": {
        "x": {"datum": 0, "type": "quantitative", "scale": {"domain": [0, 1]}, "axis": null},
        "y": {"field": "t", "type": "nominal", "sort": null, "scale": {"type": "point", "padding": 0}, "axis": null}
      },
      "layer": [
        {"mark": {"type": "point", "filled": true, "opacity": 1, "size": 289, "strokeWidth": 1.1},
          "encoding": {
            "shape": {"field": "k", "type": "nominal", "scale": {"domain": ["Sphalerite","Hg ore","Guizhou Coal","World Coal","Gold Ore"], "range": ["M1,0C1,0.376,0.552,0.68,0,0.68C-0.552,0.68,-1,0.376,-1,0C-1,-0.376,-0.552,-0.68,0,-0.68C0.552,-0.68,1,-0.376,1,0Z","M1,0C1,0.376,0.552,0.68,0,0.68C-0.552,0.68,-1,0.376,-1,0C-1,-0.376,-0.552,-0.68,0,-0.68C0.552,-0.68,1,-0.376,1,0Z","M-0.5,-0.5L0.5,0.5M0.5,-0.5L-0.5,0.5","M1,0C1,0.376,0.552,0.68,0,0.68C-0.552,0.68,-1,0.376,-1,0C-1,-0.376,-0.552,-0.68,0,-0.68C0.552,-0.68,1,-0.376,1,0Z","M1,0C1,0.376,0.552,0.68,0,0.68C-0.552,0.68,-1,0.376,-1,0C-1,-0.376,-0.552,-0.68,0,-0.68C0.552,-0.68,1,-0.376,1,0Z"]}},
            "fill": {"field": "k", "type": "nominal", "scale": {"domain": ["Sphalerite","Hg ore","Guizhou Coal","World Coal","Gold Ore"], "range": ["#c9f1c9","#dba5e7","transparent","#9a9a9a","#fff000"]}},
            "stroke": {"field": "k", "type": "nominal", "scale": {"domain": ["Sphalerite","Hg ore","Guizhou Coal","World Coal","Gold Ore"], "range": ["#4c9e4c","#a64fc0","#222222","#333333","#fff000"]}},
            "strokeDash": {"field": "k", "type": "nominal", "scale": {"domain": ["Sphalerite","Hg ore","Guizhou Coal","World Coal","Gold Ore"], "range": [[2, 1.5], [3, 2], [1, 0], [1, 0], [1, 0]]}}
          }},
        {"mark": {"type": "text", "align": "left", "baseline": "middle", "dx": 22, "fontSize": 14.5, "color": "#222"}, "encoding": {"text": {"field": "t"}}}
      ]
    },
    {
      "width": 273, "height": 87,
      "data": {"values": [
        {"k": "bg", "t": "Precipitation in background China"},
        {"k": "cfpp", "t": "CFPP-Precipitation"},
        {"k": "gza", "t": "Guizhou Atmosphere (TGM)"},
        {"k": "gzp", "t": "Guizhou Precipitation"},
        {"k": "usa", "t": "U.S. Atmosphere (TGM)"},
        {"k": "usp", "t": "U.S. Precipitation"}
      ]},
      "encoding": {
        "x": {"datum": 0, "type": "quantitative", "scale": {"domain": [0, 1]}, "axis": null},
        "y": {"field": "t", "type": "nominal", "sort": null, "scale": {"type": "point", "padding": 0}, "axis": null}
      },
      "layer": [
        {"mark": {"type": "point", "filled": true, "opacity": 1, "size": 289, "strokeWidth": 1.1},
          "encoding": {
            "shape": {"field": "k", "type": "nominal", "scale": {"domain": ["bg","cfpp","gza","gzp","usa","usp"], "range": ["M0,-0.75L0.713,-0.232L0.441,0.607L-0.441,0.607L-0.713,-0.232Z","M1,0C1,0.376,0.552,0.68,0,0.68C-0.552,0.68,-1,0.376,-1,0C-1,-0.376,-0.552,-0.68,0,-0.68C0.552,-0.68,1,-0.376,1,0Z","M1,0C1,0.376,0.552,0.68,0,0.68C-0.552,0.68,-1,0.376,-1,0C-1,-0.376,-0.552,-0.68,0,-0.68C0.552,-0.68,1,-0.376,1,0Z","M1,0C1,0.376,0.552,0.68,0,0.68C-0.552,0.68,-1,0.376,-1,0C-1,-0.376,-0.552,-0.68,0,-0.68C0.552,-0.68,1,-0.376,1,0Z","M1,0C1,0.376,0.552,0.68,0,0.68C-0.552,0.68,-1,0.376,-1,0C-1,-0.376,-0.552,-0.68,0,-0.68C0.552,-0.68,1,-0.376,1,0Z","M1,0C1,0.376,0.552,0.68,0,0.68C-0.552,0.68,-1,0.376,-1,0C-1,-0.376,-0.552,-0.68,0,-0.68C0.552,-0.68,1,-0.376,1,0Z"]}},
            "fill": {"field": "k", "type": "nominal", "scale": {"domain": ["bg","cfpp","gza","gzp","usa","usp"], "range": ["#1464d2","#ffcf9e","#d6e4ff","#efefef","#cbb3b3","#cfe0b5"]}},
            "stroke": {"field": "k", "type": "nominal", "scale": {"domain": ["bg","cfpp","gza","gzp","usa","usp"], "range": ["#0d3c8a","#f6a55a","#6a9cf0","#aaaaaa","#7a5050","#6e9a4a"]}},
            "strokeDash": {"field": "k", "type": "nominal", "scale": {"domain": ["bg","cfpp","gza","gzp","usa","usp"], "range": [[1, 0], [3, 2], [1.5, 1.5], [1.5, 1.5], [3, 1.5], [3, 1.5]]}}
          }},
        {"mark": {"type": "text", "align": "left", "baseline": "middle", "dx": 21, "fontSize": 14.5, "color": "#222"}, "encoding": {"text": {"field": "t"}}}
      ]
    },
    {
      "width": 95, "height": 86.6,
      "data": {"values": [
        {"k": "header", "site": "XR", "sp": "This Study", "t": "This Study"},
        {"k": "rc", "site": "XR", "sp": "Residential Coal", "t": "Residential Coal"},
        {"k": "fg", "site": "XR", "sp": "Residential Flue Gas", "t": "Residential Flue Gas"},
        {"k": "XR Hgp", "site": "XR", "sp": "Hgp", "t": "XR Hgᵖ"},
        {"k": "XR Hg2", "site": "XR", "sp": "Hg2", "t": "XR Hg²⁺"},
        {"k": "XR Hg0", "site": "XR", "sp": "Hg0", "t": "XR Hg⁰"},
        {"k": "JS Hgp", "site": "JS", "sp": "Hgp", "t": "JS Hgᵖ"},
        {"k": "JS Hg2", "site": "JS", "sp": "Hg2", "t": "JS Hg²⁺"},
        {"k": "JS Hg0", "site": "JS", "sp": "Hg0", "t": "JS Hg⁰"}
      ]},
      "encoding": {
        "x": {"field": "site", "type": "nominal", "scale": {"type": "point", "padding": 0, "domain": ["XR", "JS"]}, "axis": null},
        "y": {"field": "sp", "type": "nominal", "scale": {"type": "point", "padding": 0, "domain": ["This Study", "Residential Coal", "Residential Flue Gas", "Hgp", "Hg2", "Hg0"]}, "axis": null}
      },
      "layer": [
        {"transform": [{"filter": "datum.k !== 'header'"}], "mark": {"type": "point", "filled": true, "opacity": 1, "size": 289, "strokeWidth": 1.4},
          "encoding": {
            "shape": {"field": "k", "type": "nominal", "scale": {"domain": ["rc","fg","XR Hgp","XR Hg2","XR Hg0","JS Hgp","JS Hg2","JS Hg0"], "range": ["M1,0C1,0.376,0.552,0.68,0,0.68C-0.552,0.68,-1,0.376,-1,0C-1,-0.376,-0.552,-0.68,0,-0.68C0.552,-0.68,1,-0.376,1,0Z","M1,0C1,0.376,0.552,0.68,0,0.68C-0.552,0.68,-1,0.376,-1,0C-1,-0.376,-0.552,-0.68,0,-0.68C0.552,-0.68,1,-0.376,1,0Z","M0.6,0C0.6,0.331,0.331,0.6,0,0.6C-0.331,0.6,-0.6,0.331,-0.6,0C-0.6,-0.331,-0.331,-0.6,0,-0.6C0.331,-0.6,0.6,-0.331,0.6,0Z","M0,-0.68L0.68,0L0,0.68L-0.68,0Z","M-0.52,-0.52L0.52,-0.52L0.52,0.52L-0.52,0.52Z","M0.6,0C0.6,0.331,0.331,0.6,0,0.6C-0.331,0.6,-0.6,0.331,-0.6,0C-0.6,-0.331,-0.331,-0.6,0,-0.6C0.331,-0.6,0.6,-0.331,0.6,0Z","M0,-0.68L0.68,0L0,0.68L-0.68,0Z","M-0.52,-0.52L0.52,-0.52L0.52,0.52L-0.52,0.52Z"]}},
            "fill": {"field": "k", "type": "nominal", "scale": {"domain": ["rc","fg","XR Hgp","XR Hg2","XR Hg0","JS Hgp","JS Hg2","JS Hg0"], "range": ["#0a1ecf","#ffd23c","#7a7a7a","#ff66e6","#5edc6b","transparent","transparent","transparent"]}},
            "stroke": {"field": "k", "type": "nominal", "scale": {"domain": ["rc","fg","XR Hgp","XR Hg2","XR Hg0","JS Hgp","JS Hg2","JS Hg0"], "range": ["#08179a","#222222","#7a7a7a","#ff66e6","#5edc6b","#7a7a7a","#ff66e6","#4cc95a"]}}
          }},
        {"transform": [{"filter": "datum.k !== 'header'"}], "mark": {"type": "text", "align": "left", "baseline": "middle", "dx": 21, "fontSize": 14.5, "color": "#222"}, "encoding": {"text": {"field": "t"}}},
        {"transform": [{"filter": "datum.k === 'header'"}], "mark": {"type": "text", "align": "left", "baseline": "middle", "dx": -8, "fontSize": 14.5, "fontWeight": "bold", "color": "#111"}, "encoding": {"text": {"field": "t"}}}
      ]
    }
  ], "spacing": 0, "bounds": "flush", "resolve": {"scale": {"shape": "independent", "fill": "independent", "stroke": "independent", "strokeDash": "independent", "color": "independent"}}}
]
}
